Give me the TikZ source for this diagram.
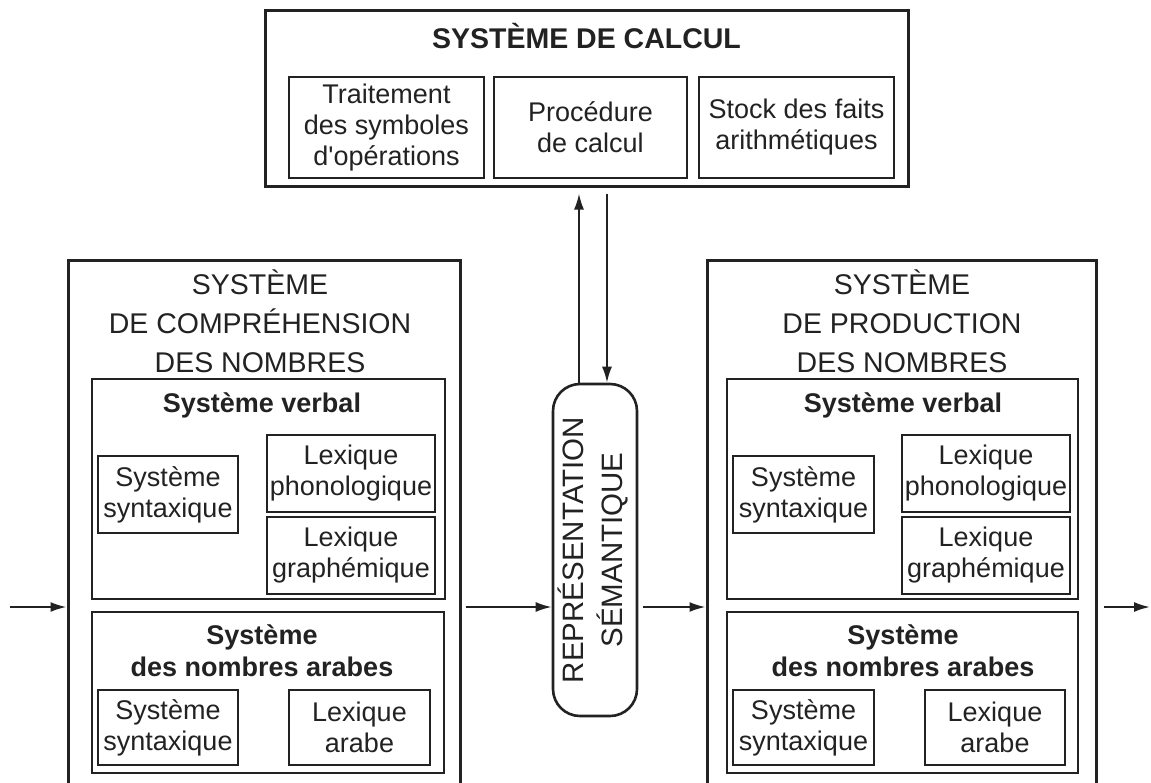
\documentclass[tikz,border=0pt]{standalone}
\usepackage{fontspec}
\usepackage{graphicx}
\setmainfont{Liberation Sans}
\usetikzlibrary{arrows.meta}
\definecolor{ink}{HTML}{222222}
\newcommand{\apos}{\XeTeXglyph\XeTeXcharglyph"0027\relax}
\begin{document}
\begin{tikzpicture}[x=1pt,y=-1pt,
  bigbox/.style={draw=ink, line width=3pt, inner sep=0pt},
  subbox/.style={draw=ink, line width=2.6pt, inner sep=0pt},
  cell/.style={draw=ink, line width=2.2pt, inner sep=0pt, align=center, text=ink,
    font=\fontsize{27}{31}\selectfont},
  ttl/.style={anchor=base, inner sep=0pt, text=ink, font=\fontsize{28.5}{38}\selectfont},
  subttl/.style={anchor=base, inner sep=0pt, text=ink, font=\bfseries\fontsize{27}{32}\selectfont},
  capsule/.style={draw=ink, line width=2.6pt, rounded corners=27pt, inner sep=0pt, text=ink,
    font=\fontsize{29.5}{39}\selectfont},
  arr/.style={draw=ink, line width=2pt, -{Latex[length=16pt,width=10pt]}},
]
\useasboundingbox (0,0) rectangle (1151,782);
\clip (0,0) rectangle (1151,782);
\fill[white] (0,0) rectangle (1151,782);

% ---------- top: calcul ----------
\node[bigbox, minimum width=643pt, minimum height=176pt] (tbox) at (586.5,98) {};
\node[anchor=base, inner sep=0pt, text=ink, font=\bfseries\fontsize{28.5}{34}\selectfont] (ttitle) at (586.5,48) {SYSTÈME DE CALCUL};
\node[cell, minimum width=195pt, minimum height=101pt] (t1) at (386.5,127.5) {Traitement\\des symboles\\d\apos opérations};
\node[cell, minimum width=193pt, minimum height=101pt] (t2) at (590.5,127.5) {Procédure\\de calcul};
\node[cell, minimum width=195pt, minimum height=101pt] (t3) at (796.5,127.5) {Stock des faits\\arithmétiques};

% ---------- left: compréhension ----------
\node[bigbox, minimum width=392pt, minimum height=540pt] (lbox) at (264,530) {};
\node[ttl] (lt1) at (260,294) {SYSTÈME};
\node[ttl] (lt2) at (260,333) {DE COMPRÉHENSION};
\node[ttl] (lt3) at (260,372) {DES NOMBRES};
\node[subbox, minimum width=353pt, minimum height=220pt] (lverb) at (268.5,489) {};
\node[subttl] (lverbt) at (262,412) {Système verbal};
\node[cell, minimum width=140pt, minimum height=77pt] (lsyn) at (168,494.5) {Système\\syntaxique};
\node[cell, minimum width=168pt, minimum height=77pt] (lpho) at (351,473.5) {Lexique\\phonologique};
\node[cell, minimum width=168pt, minimum height=77pt] (lgra) at (351,555.5) {Lexique\\graphémique};
\node[subbox, minimum width=352pt, minimum height=161pt] (lara) at (268,692.5) {};
\node[subttl] (larat1) at (262,644) {Système};
\node[subttl] (larat2) at (262,676) {des nombres arabes};
\node[cell, minimum width=140pt, minimum height=75pt] (lsyn2) at (168,727.5) {Système\\syntaxique};
\node[cell, minimum width=141pt, minimum height=75pt] (llex) at (359.5,727.5) {Lexique\\arabe};

% ---------- right: production ----------
\node[bigbox, minimum width=389pt, minimum height=540pt] (rbox) at (901.5,530) {};
\node[ttl] (rt1) at (902,294) {SYSTÈME};
\node[ttl] (rt2) at (902,333) {DE PRODUCTION};
\node[ttl] (rt3) at (902,372) {DES NOMBRES};
\node[subbox, minimum width=351pt, minimum height=220pt] (rverb) at (902.5,489) {};
\node[subttl] (rverbt) at (903,412) {Système verbal};
\node[cell, minimum width=141pt, minimum height=77pt] (rsyn) at (803.5,494.5) {Système\\syntaxique};
\node[cell, minimum width=168pt, minimum height=77pt] (rpho) at (986,473.5) {Lexique\\phonologique};
\node[cell, minimum width=168pt, minimum height=77pt] (rgra) at (986,555.5) {Lexique\\graphémique};
\node[subbox, minimum width=351pt, minimum height=161pt] (rara) at (902.5,692.5) {};
\node[subttl] (rarat1) at (903,644) {Système};
\node[subttl] (rarat2) at (903,676) {des nombres arabes};
\node[cell, minimum width=141pt, minimum height=75pt] (rsyn2) at (803.5,727.5) {Système\\syntaxique};
\node[cell, minimum width=140pt, minimum height=75pt] (rlex) at (995,727.5) {Lexique\\arabe};

% ---------- capsule ----------
\node[capsule, minimum width=84pt, minimum height=332pt] (cap) at (595,550)
  {\rotatebox{90}{\begin{tabular}{@{}c@{}}REPRÉSENTATION\\SÉMANTIQUE\end{tabular}}};

% ---------- connectors ----------
\coordinate (src) at (10,607);
\coordinate (dst) at (1150,607);
\coordinate (ux) at (579,300);
\coordinate (dx) at (607,300);
\draw[arr] (src) -- (src -| lbox.west);
\draw[arr, shorten <=4pt] (src -| lbox.east) -- (src -| cap.west);
\draw[arr, shorten <=5pt] (src -| cap.east) -- (src -| rbox.west);
\draw[arr, shorten <=6pt] (src -| rbox.east) -- (dst);
\draw[arr, shorten >=6pt] (cap.north -| ux) -- (tbox.south -| ux);
\draw[arr, shorten <=6pt] (tbox.south -| dx) -- (cap.north -| dx);
\end{tikzpicture}
\end{document}
